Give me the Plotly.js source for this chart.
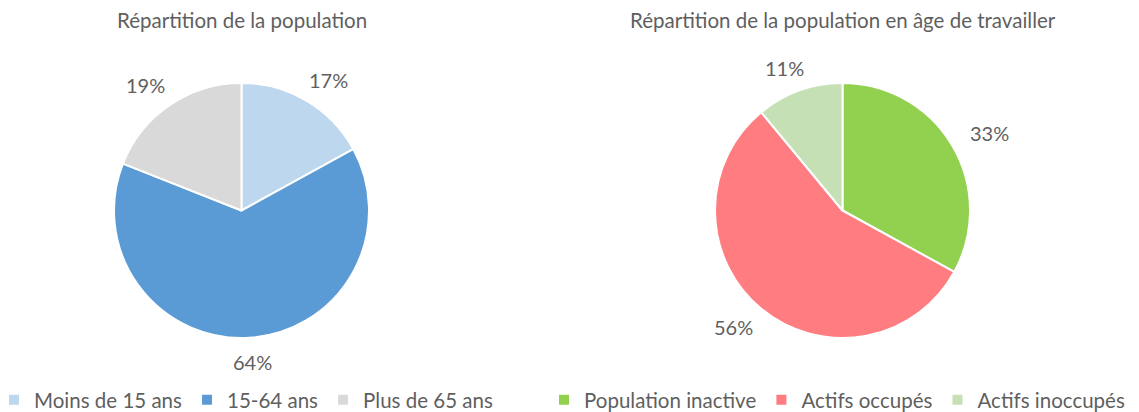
<!DOCTYPE html>
<html><head><meta charset="utf-8">
<script src="https://cdn.plot.ly/plotly-3.0.1.min.js"></script>
<style>html,body{margin:0;padding:0;background:#fff}#c{width:1139px;height:412px}</style>
</head><body><div id="c"></div>
<script>
var W = 1139, H = 412;
var FONT = "Lato, 'Open Sans', sans-serif";
var TXT = "#5f5f5f";

var titleLeft = "Répartition de la population";
var labelsLeft = ["Moins de 15 ans", "15-64 ans", "Plus de 65 ans"];
var valuesLeft = [17, 64, 19];
var colorsLeft = ["#BDD7EE", "#5B9BD5", "#D9D9D9"];

var titleRight = "Répartition de la population en âge de travailler";
var labelsRight = ["Population inactive", "Actifs occupés", "Actifs inoccupés"];
var valuesRight = [33, 56, 11];
var colorsRight = ["#92D050", "#FF7C80", "#C5E0B4"];

// pie geometry (pixels)
var L = {cx: 241.5, cy: 210.5, r: 127.5};
var R = {cx: 842.5, cy: 210.5, r: 127.5};

function dom(g) {
  return {x: [(g.cx - g.r) / W, (g.cx + g.r) / W], y: [(H - (g.cy + g.r)) / H, (H - (g.cy - g.r)) / H]};
}

function pieTrace(labels, values, colors, g, legend) {
  return {
    type: "pie", labels: labels, values: values, sort: false, direction: "clockwise",
    rotation: 0, textinfo: "none", hoverinfo: "label+percent",
    marker: {colors: colors, line: {color: "#ffffff", width: 2}},
    domain: dom(g), legend: legend, showlegend: true
  };
}

function labelAnnotations(values, g) {
  var tot = values.reduce(function (a, b) { return a + b; }, 0);
  var cum = 0, out = [];
  var rx = g.r + 43, ry = g.r + 24;
  values.forEach(function (v) {
    var mid = (cum + v / 2) / tot * 2 * Math.PI;
    cum += v;
    var px = g.cx + rx * Math.sin(mid), py = g.cy - ry * Math.cos(mid);
    out.push({
      text: Math.round(v / tot * 100) + "%", x: px / W, y: 1 - py / H, xref: "paper", yref: "paper",
      xanchor: "center", yanchor: "middle", showarrow: false,
      font: {family: FONT, size: 20, color: TXT}
    });
  });
  return out;
}

var annotations = [
  {text: titleLeft, x: L.cx / W, y: 1 - 20 / H, xref: "paper", yref: "paper", xanchor: "center", yanchor: "middle",
   showarrow: false, font: {family: FONT, size: 20.5, color: TXT}},
  {text: titleRight, x: R.cx / W, y: 1 - 20 / H, xref: "paper", yref: "paper", xanchor: "center", yanchor: "middle",
   showarrow: false, font: {family: FONT, size: 20.5, color: TXT}}
].concat(labelAnnotations(valuesLeft, L)).concat(labelAnnotations(valuesRight, R));

var layout = {
  width: W, height: H, margin: {l: 0, r: 0, t: 0, b: 0, autoexpand: false},
  paper_bgcolor: "#ffffff", plot_bgcolor: "#ffffff",
  font: {family: FONT, color: TXT},
  annotations: annotations,
  legend: {orientation: "h", x: -6 / W, xanchor: "left", y: -8 / H, yanchor: "bottom",
           font: {family: FONT, size: 20.5, color: TXT}, bgcolor: "rgba(0,0,0,0)"},
  legend2: {orientation: "h", x: 544 / W, xanchor: "left", y: -8 / H, yanchor: "bottom",
           font: {family: FONT, size: 20.5, color: TXT}, bgcolor: "rgba(0,0,0,0)"}
};

Plotly.newPlot("c", [
  pieTrace(labelsLeft, valuesLeft, colorsLeft, L, "legend"),
  pieTrace(labelsRight, valuesRight, colorsRight, R, "legend2")
], layout, {displayModeBar: false, staticPlot: true});
</script></body></html>
